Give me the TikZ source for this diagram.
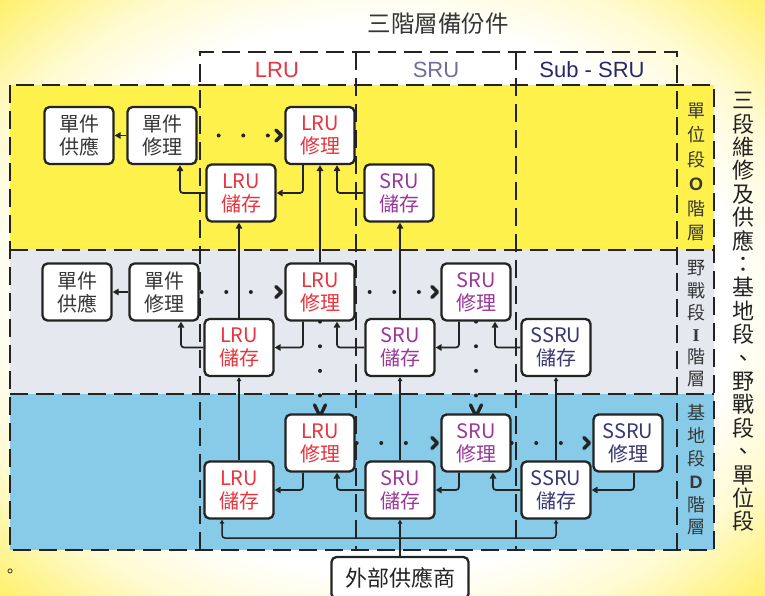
\documentclass[tikz,border=0pt]{standalone}
\usepackage{fontspec}
\setmainfont{Noto Sans CJK TC}
\newfontfamily\arialf{Liberation Sans}
\newfontfamily\serff{Liberation Serif}
\usetikzlibrary{arrows.meta}
\definecolor{glowy}{RGB}{255,240,105}
\definecolor{tierO}{RGB}{255,241,76}
\definecolor{tierI}{RGB}{229,232,238}
\definecolor{tierD}{RGB}{136,203,232}
\definecolor{lrucol}{RGB}{232,52,62}
\definecolor{srucol}{RGB}{155,55,155}
\definecolor{ssrucol}{RGB}{55,55,115}
\definecolor{srhead}{RGB}{110,110,160}
\definecolor{subhead}{RGB}{40,40,105}
\definecolor{inkc}{RGB}{35,35,35}
\definecolor{greytext}{RGB}{55,55,55}
\pgfdeclareradialshading{glow}{\pgfpoint{0bp}{0bp}}{color(0bp)=(white);color(23bp)=(white);color(28.5bp)=(glowy!30);color(35.5bp)=(glowy);color(50bp)=(glowy)}
\pgfdeclarelayer{bg}
\pgfdeclarelayer{conn}
\pgfsetlayers{bg,conn,main}
\begin{document}
\begin{tikzpicture}[x=1pt,y=-1pt,
  box/.style={draw=inkc, line width=2.3pt, fill=white, rounded corners=5pt,
    minimum width=69pt, minimum height=57pt, inner sep=0pt, align=center,
    font=\fontsize{20}{23}\selectfont},
  gbox/.style={box, text=greytext},
  lbox/.style={box, text=lrucol},
  sbox/.style={box, text=srucol},
  ssbox/.style={box, text=ssrucol},
  tierline/.style={draw=inkc, line width=2.3pt, dash pattern=on 18pt off 8pt},
  conn/.style={draw=inkc, line width=1.7pt, rounded corners=3pt, -{Triangle[length=6pt,width=6.5pt]}},
  conns/.style={draw=inkc, line width=1.5pt, rounded corners=3pt, -{Triangle[length=4pt,width=4.5pt]}},
  dotc/.style={draw=inkc, line width=4pt, line cap=round, dash pattern=on 0pt off 24.6pt, dash phase=#1},
  dotc/.default=0pt,
  chev/.style={draw=inkc, line width=3.4pt, line cap=round, line join=round},
  tierlab/.style={text=greytext, align=center},
]
\useasboundingbox (0,0) rectangle (765,596);

\begin{pgfonlayer}{bg}
  \shade[shading=glow] (0,0) rectangle (765,596);
  \fill[tierO] (10,85) rectangle (714,250);
  \fill[tierI] (10,250) rectangle (714,394);
  \fill[tierD] (10,394) rectangle (714,550);
  \draw[tierline] (10,85) rectangle (714,550);
  \draw[tierline] (10,250) -- (714,250);
  \draw[tierline] (10,394) -- (714,394);
  \draw[tierline] (200,550) -- (200,52) -- (677,52) -- (677,550);
  \draw[tierline] (356,52) -- (356,550);
  \draw[tierline] (516,52) -- (516,550);
\end{pgfonlayer}

% titles
\node[text=greytext, font=\fontsize{23.5}{26}\selectfont] (title) at (438,24) {三階層備份件};
\node[text=lrucol, font=\arialf\fontsize{22}{26}\selectfont] (hL) at (277,70) {LRU};
\node[text=srhead, font=\arialf\fontsize{22}{26}\selectfont] (hS) at (436,70) {SRU};
\node[text=subhead, font=\arialf\fontsize{22}{26}\selectfont] (hSS) at (592,70) {Sub - SRU};

% tier labels
\node[tierlab, font=\fontsize{18}{24.5}\selectfont] (labO) at (696,172) {單\\位\\段\\{\arialf\bfseries O}\\階\\層};
\node[tierlab, font=\fontsize{18}{22.2}\selectfont] (labI) at (696,324) {野\\戰\\段\\{\serff\bfseries I}\\階\\層};
\node[tierlab, font=\fontsize{18}{22.8}\selectfont] (labD) at (696,470) {基\\地\\段\\{\arialf\bfseries D}\\階\\層};
\node[text=inkc, align=center, font=\fontsize{22}{23.4}\selectfont] (side) at (743,312)
  {三\\段\\維\\修\\及\\供\\應\\：\\基\\地\\段\\、\\野\\戰\\段\\、\\單\\位\\段};
\node[text=inkc, font=\fontsize{16}{18}\selectfont] (dot) at (10,573) {。};

% O tier
\node[gbox] (sO) at (79,135.5) {單件\\供應};
\node[gbox] (rO) at (162,135.5) {單件\\修理};
\node[lbox] (LmO) at (320,135.5) {LRU\\修理};
\node[lbox] (LsO) at (241,193) {LRU\\儲存};
\node[sbox] (SsO) at (399,193) {SRU\\儲存};
% I tier
\node[gbox] (sI) at (77,292) {單件\\供應};
\node[gbox] (rI) at (164,292) {單件\\修理};
\node[lbox] (LmI) at (320,292) {LRU\\修理};
\node[lbox] (LsI) at (239,347.5) {LRU\\儲存};
\node[sbox] (SsI) at (400,347.5) {SRU\\儲存};
\node[sbox] (SmI) at (476,292) {SRU\\修理};
\node[ssbox] (SSsI) at (556,347.5) {SSRU\\儲存};
% D tier
\node[lbox] (LmD) at (320,443) {LRU\\修理};
\node[lbox] (LsD) at (239,490) {LRU\\儲存};
\node[sbox] (SsD) at (400,490) {SRU\\儲存};
\node[sbox] (SmD) at (476,443) {SRU\\修理};
\node[ssbox] (SSsD) at (556,490) {SSRU\\儲存};
\node[ssbox] (SSmD) at (628,443) {SSRU\\修理};
% vendor
\node[box, text=inkc, minimum width=137pt, minimum height=42pt, font=\fontsize{22}{26}\selectfont] (vendor) at (400,578) {外部供應商};
\coordinate (jn) at (400,538);

\begin{pgfonlayer}{conn}
  % O tier
  \draw[conn] (rO.west) -- (sO.east);
  \draw[dotc=3.6pt] (rO.east) -- ([xshift=-11pt]LmO.west);
  \draw[chev] ([shift={(-8.5,-5.5)}]LmO.west) -- ([xshift=-3pt]LmO.west) -- ([shift={(-8.5,5.5)}]LmO.west);
  \draw[conn] ([xshift=-17pt]LmO.south) |- (LsO.east);
  \draw[conn] (LsO.west) -| ([xshift=18pt]rO.south);
  \draw[conn] (SsO.west) -| ([xshift=17pt]LmO.south);
  \draw[conn] (LmI.north) -- (LmO.south);
  \draw[conn] (LsI.north) -- (LsI.north |- LsO.south);
  \draw[conn] (SsI.north) -- (SsI.north |- SsO.south);
  % I tier
  \draw[conn] (rI.west) -- (sI.east);
  \draw[dotc=22.6pt] (rI.east) -- ([xshift=-11pt]LmI.west);
  \draw[chev] ([shift={(-8.5,-5.5)}]LmI.west) -- ([xshift=-3pt]LmI.west) -- ([shift={(-8.5,5.5)}]LmI.west);
  \draw[conn] ([xshift=-17pt]LmI.south) |- (LsI.east);
  \draw[conn] (LsI.west) -| ([xshift=17pt]rI.south);
  \draw[conn] (SsI.west) -| ([xshift=17pt]LmI.south);
  \draw[dotc=10.6pt] (LmI.east) -- ([xshift=-11pt]SmI.west);
  \draw[chev] ([shift={(-8.5,-5.5)}]SmI.west) -- ([xshift=-3pt]SmI.west) -- ([shift={(-8.5,5.5)}]SmI.west);
  \draw[conn] ([xshift=-17pt]SmI.south) |- (SsI.east);
  \draw[conn] (SSsI.west) -| ([xshift=19pt]SmI.south);
  \draw[dotc] (LmI.south) -- ([yshift=11pt]LmD.north);
  \draw[chev] ([shift={(-5.5,-8.5)}]LmD.north) -- ([yshift=-3pt]LmD.north) -- ([shift={(5.5,-8.5)}]LmD.north);
  \draw[dotc] (SmI.south) -- ([yshift=11pt]SmD.north);
  \draw[chev] ([shift={(-5.5,-8.5)}]SmD.north) -- ([yshift=-3pt]SmD.north) -- ([shift={(5.5,-8.5)}]SmD.north);
  \draw[conns] (LsD.north) -- (LsI.south);
  \draw[conns] (SsD.north) -- (SsI.south);
  \draw[conns] (SSsD.north) -- (SSsI.south);
  % D tier
  \draw[dotc=23.6pt] (LmD.east) -- ([xshift=-11pt]SmD.west);
  \draw[chev] ([shift={(-8.5,-5.5)}]SmD.west) -- ([xshift=-3pt]SmD.west) -- ([shift={(-8.5,5.5)}]SmD.west);
  \draw[dotc] (SmD.east) -- ([xshift=-11pt]SSmD.west);
  \draw[chev] ([shift={(-8.5,-5.5)}]SSmD.west) -- ([xshift=-3pt]SSmD.west) -- ([shift={(-8.5,5.5)}]SSmD.west);
  \draw[conn] ([xshift=-17pt]LmD.south) |- (LsD.east);
  \draw[conn] (SsD.west) -| ([xshift=17pt]LmD.south);
  \draw[conn] ([xshift=-17pt]SmD.south) |- (SsD.east);
  \draw[conn] (SSsD.west) -| ([xshift=17pt]SmD.south);
  \draw[conn] ([xshift=6pt]SSmD.south) |- (SSsD.east);
  % vendor
  \draw[conns] (vendor.north) -- (SsD.south);
  \draw[conns] (jn) -| ([xshift=-17pt]LsD.south);
  \draw[conns] (jn) -| (SSsD.south);
\end{pgfonlayer}
\end{tikzpicture}
\end{document}
